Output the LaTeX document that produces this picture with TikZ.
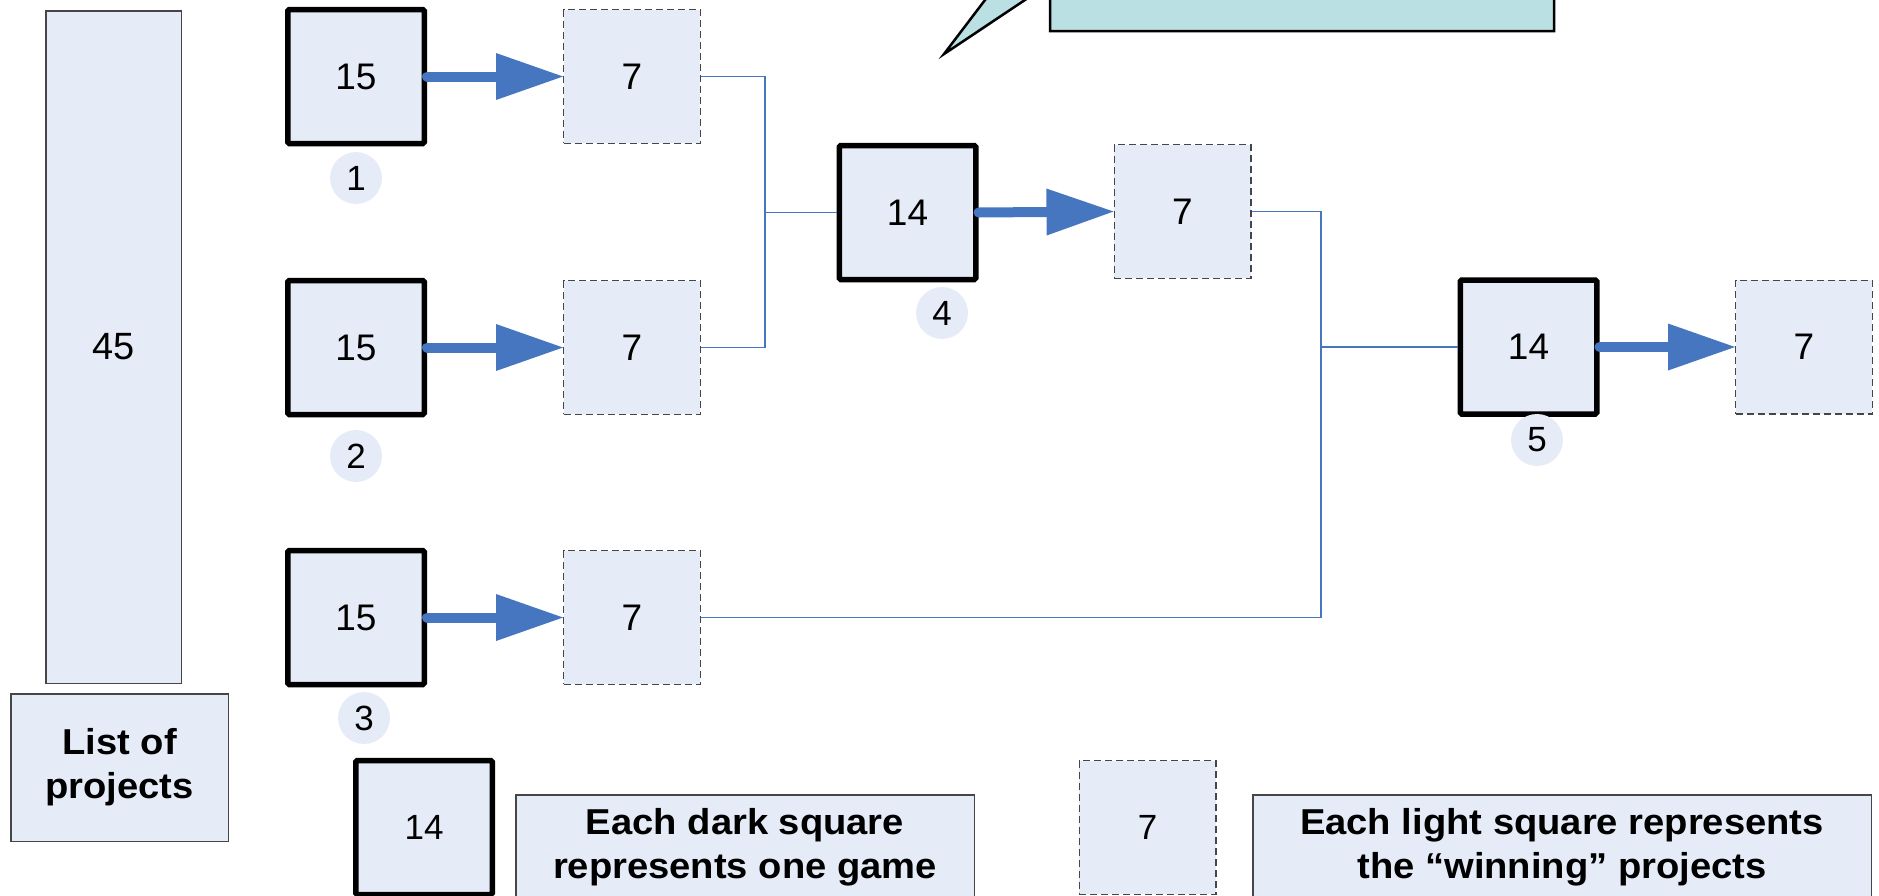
\documentclass[tikz,border=0pt]{standalone}
\usepackage{fontspec}
\setmainfont{Liberation Sans}
\newfontfamily\notefont[FakeStretch=1.06]{Liberation Sans}
\usetikzlibrary{arrows.meta}
\definecolor{boxfill}{RGB}{230,236,247}
\definecolor{calloutfill}{RGB}{187,224,227}
\definecolor{flowblue}{RGB}{71,118,192}
\definecolor{edgegray}{RGB}{70,70,70}

\begin{document}
\begin{tikzpicture}[x=1pt,y=-1pt,
  game/.style={draw=black, line width=5.5pt, fill=boxfill, rounded corners=1.5pt,
    minimum width=136.5pt, minimum height=134pt, inner sep=0pt,
    font=\fontsize{37}{42}\selectfont},
  winner/.style={draw=edgegray, dash pattern=on 7pt off 4pt, line width=1.3pt,
    fill=boxfill, minimum width=136.7pt, minimum height=133.7pt, inner sep=0pt,
    font=\fontsize{37}{42}\selectfont},
  gamenum/.style={circle, fill=boxfill, minimum size=52pt, inner sep=0pt,
    font=\fontsize{35}{40}\selectfont},
  plainbox/.style={draw=edgegray, line width=1.5pt, fill=boxfill, inner sep=0pt},
  notebox/.style={draw=edgegray, line width=1.5pt, fill=boxfill, anchor=north,
    inner xsep=6pt, inner ysep=14pt, align=center,
    font=\notefont\fontsize{36}{44}\selectfont\bfseries},
  flow/.style={draw=flowblue, line width=10pt, line cap=round,
    -{Triangle[length=67pt, width=47pt, line width=0pt]}},
  link/.style={draw=flowblue, line width=1.5pt}
]
\useasboundingbox (0,0) rectangle (1879,895);
\clip (0,0) rectangle (1879,895);

% callout with its wedge tail, cut off at the top edge
\draw[fill=calloutfill, line width=2.5pt, line join=miter]
  (1050,31) -- (1050,-16.7) -- (944,54) -- (1050,-85.6) -- (1050,-200)
  -- (1554,-200) -- (1554,31) -- cycle;

% full list of projects
\node[plainbox, minimum width=135.5pt, minimum height=672.5pt,
  font=\fontsize{38}{42}\selectfont] (all) at (113.5,347) {45};
\node[plainbox, minimum width=217.5pt, minimum height=147.5pt, align=center,
  font=\notefont\fontsize{36}{44}\selectfont\bfseries] (list) at (119.5,767.5) {List of\\projects};

% first round
\node[game] (d1) at (356,76.5) {15};
\node[game] (d2) at (356,347.5) {15};
\node[game] (d3) at (356,617.5) {15};
\node[winner] (l1) at (632,76.5) {7};
\node[winner] (l2) at (632,347.5) {7};
\node[winner] (l3) at (632,617.5) {7};
\node[gamenum] (n1) at (356,178) {1};
\node[gamenum] (n2) at (356,456) {2};
\node[gamenum] (n3) at (364,718) {3};

% second round
\node[game] (d4) at (907.5,212.5) {14};
\node[winner] (l4) at (1182.5,211.5) {7};
\node[gamenum] (n4) at (942,313) {4};

% final
\node[game] (d5) at (1528.5,347) {14};
\node[winner] (l5) at (1804,347) {7};
\node[gamenum] (n5) at (1537,440) {5};

% bracket joins
\coordinate (j1) at (765,212.5);
\coordinate (j2) at (1321,347);
\draw[link] (l1.east) -| (j1) |- (l2.east);
\draw[link] (j1) -- (d4.west);
\draw[link] (l4.east) -| (j2) |- (l3.east);
\draw[link] (j2) -- (d5.west);

% winners move on
\draw[flow] (d1.east) -- (l1.west);
\draw[flow] (d2.east) -- (l2.west);
\draw[flow] (d3.east) -- (l3.west);
\draw[flow] (d4.east) -- (l4.west);
\draw[flow] (d5.east) -- (l5.west);

% legend
\node[game, font=\fontsize{35}{40}\selectfont] (kd) at (424,827.5) {14};
\node[notebox, minimum width=458.5pt] (kdt) at (745,794)
  {Each dark square\\represents one game\rule[-40pt]{0pt}{40pt}};
\node[winner, font=\fontsize{35}{40}\selectfont] (kl) at (1147.5,827.5) {7};
\node[notebox, minimum width=618.5pt] (klt) at (1562,794)
  {Each light square represents\\the “winning” projects\rule[-40pt]{0pt}{40pt}};
\end{tikzpicture}
\end{document}
